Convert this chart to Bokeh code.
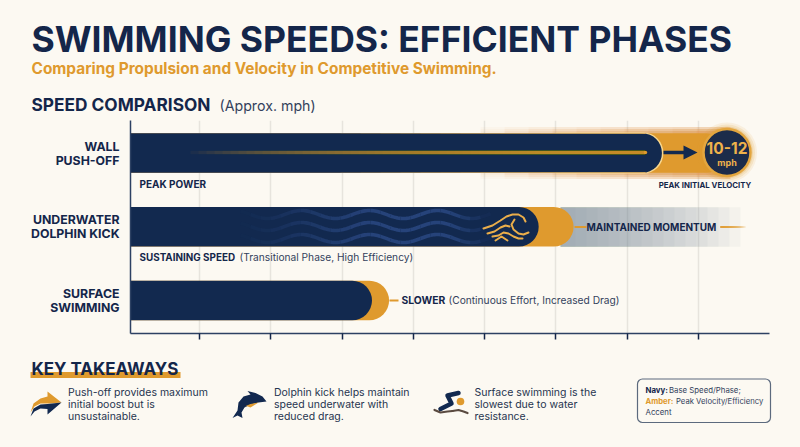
import numpy as np
from bokeh.core.properties import value
from bokeh.embed import file_html
from bokeh.layouts import column
from bokeh.models import FixedTicker, GlobalInlineStyleSheet, Range1d
from bokeh.plotting import figure
from bokeh.resources import INLINE

BG = "#FCF9F2"
NAVY = "#12294F"
INK = "#14264A"
AMBER = "#DF9A2E"
GRID = "#E7E4DD"
FONT = "Inter"
F = value(FONT)

phases = ["WALL\nPUSH-OFF", "UNDERWATER\nDOLPHIN KICK", "SURFACE\nSWIMMING"]
rows = [0, 1, 2]
navy_speed = [7.49, 5.76, 3.42]
amber_speed = [8.39, 6.25, 3.66]
grid_ticks = [1, 2, 3, 4, 5, 6, 7, 8, 9]
axis_ticks = [1, 2, 3, 4, 5, 6, 7, 8]

W = 800
HEAD_H = 120      # page y 0..120
CHART_H = 220     # page y 120..340
FOOT_H = 107      # page y 340..447

sheet = GlobalInlineStyleSheet(css=f"html,body{{background:{BG};overflow:hidden;}}")


def panel(h, y0, y1):
    f = figure(width=W, height=h, x_range=Range1d(0, 800), y_range=Range1d(y1, y0),
               output_backend="svg", toolbar_location=None, min_border=0, frame_align=False,
               background_fill_color=BG, border_fill_color=BG, outline_line_color=None)
    f.axis.visible = False
    f.grid.visible = False
    return f


def txt(f, x, y, s, size, color=INK, bold=False, align="left", **kw):
    # y is the wanted baseline; the renderer sets alphabetic text about 0.37em low
    f.text([x], [y - 0.37 * size], text=[s], text_font=F, text_font_size=f"{size}px",
           text_font_style="bold" if bold else "normal", text_color=color,
           text_align=align, text_baseline="alphabetic", **kw)


# ---------- header
head = panel(HEAD_H, 0, 120)
head.stylesheets = [sheet]
txt(head, 31, 52, "SWIMMING SPEEDS: EFFICIENT PHASES", 35.5, bold=True)
txt(head, 31, 74, "Comparing Propulsion and Velocity in Competitive Swimming.", 15.4, AMBER, True)
txt(head, 31, 110, "SPEED COMPARISON", 17.3, bold=True)
txt(head, 219, 110, "(Approx. mph)", 14.2, "#33415C")

# ---------- chart
chart = figure(width=W, height=CHART_H, x_range=Range1d(0.03, 9.0),
               y_range=Range1d(2.447, -0.441), frame_align=False,
               output_backend="svg", toolbar_location=None,
               min_border_left=130, min_border_right=31, min_border_top=0, min_border_bottom=7,
               background_fill_color=BG, border_fill_color=BG, outline_line_color=None)
chart.extra_x_ranges["px"] = Range1d(130, 769)
chart.extra_y_ranges["py"] = Range1d(333, 120)
P = dict(x_range_name="px", y_range_name="py")

chart.xgrid.ticker = FixedTicker(ticks=grid_ticks)
chart.xgrid.grid_line_color = GRID
chart.xgrid.grid_line_width = 1.5
chart.ygrid.visible = False
xa = chart.xaxis[0]
xa.ticker = FixedTicker(ticks=axis_ticks)
xa.major_label_text_color = None
xa.major_label_text_font_size = "1px"
xa.major_label_standoff = 0
xa.major_tick_in = 0
xa.major_tick_out = 6
xa.major_tick_line_color = INK
xa.major_tick_line_width = 1.5
xa.minor_tick_line_color = None
xa.axis_line_color = "#2D4163"
xa.axis_line_width = 1.5
ya = chart.yaxis[0]
ya.ticker = FixedTicker(ticks=rows)
ya.major_label_overrides = dict(zip(rows, phases))
ya.axis_line_color = "#2D4163"
ya.axis_line_width = 1.5
ya.major_tick_line_color = None
ya.minor_tick_line_color = None
ya.major_label_standoff = 5
ya.major_label_text_font = FONT
ya.major_label_text_font_style = "bold"
ya.major_label_text_font_size = "12.3px"
ya.major_label_text_color = INK
ya.major_label_text_line_height = 0.93

BAR_H = 0.535
LEFT = 0.03
CAP = (0, 20, 20, 0)

# glow around the wall push-off bar: nested layers build a ramp towards the badge
xs = np.arange(480, 720, 24)
for grow in [6, 4, 2]:
    n = len(xs)
    chart.quad(left=xs, right=[730] * n, top=[152.5 - 20 - grow] * n, bottom=[152.5 + 20 + grow] * n,
               fill_color=AMBER, line_color=None, fill_alpha=0.035, **P)

# grey fade behind maintained momentum: nested layers
xs = np.arange(575, 746, 11)
chart.quad(left=[560] * len(xs), right=xs, top=[206.7] * len(xs), bottom=[246.2] * len(xs),
           fill_color="#76829A", line_color=None, fill_alpha=0.06, **P)

# amber extensions
chart.hbar(y=rows, left=[LEFT] * 3, right=amber_speed, height=BAR_H, fill_color=AMBER,
           line_color=None, border_radius=CAP)
# pale rim on the wall bar's end
chart.hbar(y=[rows[0]], left=[6.0], right=[navy_speed[0] + 0.02], height=BAR_H + 0.02,
           fill_color="#F7D78F", line_color=None, border_radius=CAP)
# navy bars
chart.hbar(y=rows, left=[LEFT] * 3, right=navy_speed, height=BAR_H, fill_color=NAVY,
           line_color=None, border_radius=CAP)

# bright rim along the wall bar
xs = np.arange(340, 641, 20)
for yy in (133, 172):
    chart.segment(xs, [yy] * len(xs), [645] * len(xs), [yy] * len(xs), line_color="#EDB95E",
                  line_width=1.2, line_alpha=0.1, **P)

# wall bar amber streak
xs = np.arange(190, 641, 8)
chart.segment(xs, [152] * len(xs), [645] * len(xs), [152] * len(xs), line_color=AMBER, line_width=3.4,
              line_alpha=0.05, **P)
chart.scatter([645], [152], size=3.4, fill_color=AMBER, line_color=None, **P)

# arrow to the badge
chart.segment([663], [152], [686], [152], line_color=NAVY, line_width=3.5, **P)
chart.patch([683, 697, 683], [145, 152, 159], fill_color=NAVY, line_color=None, **P)

# badge
for r, a in [(60, .10), (56, .14), (52, .22)]:
    chart.scatter([726.5], [152], size=r, fill_color=AMBER, fill_alpha=a, line_color=None, **P)
chart.scatter([726.5], [152], size=47, fill_color="#1C2C4A", line_color="#E3A63F", line_width=2.5, **P)
txt(chart, 726.5, 153, "10-12", 15.5, "#EFB24B", True, "center", **P)
txt(chart, 726.5, 165, "mph", 9, "#EFB24B", True, "center", **P)

# waves in the dolphin bar
wx = np.arange(240, 491, 10)
xs_w, ys_w, al_w = [], [], []
for base in (214, 226, 238):
    for a, b in zip(wx[:-1], wx[1:]):
        t = np.linspace(a, b, 8)
        xs_w.append(t.tolist())
        ys_w.append((base + 4 * np.sin((t - 250) * 2 * np.pi / 68)).tolist())
        mid = (a + b) / 2
        al_w.append(min(1.0, (mid - 240) / 130) * min(1.0, (490 - mid) / 40))
chart.multi_line(xs_w, ys_w, line_color="#26437A", line_width=3.6, line_alpha=al_w, **P)

# wave icon
wave_icon_x = [[483, 492, 500, 506, 512, 518, 523, 525],
               [514, 511, 513, 518, 523, 528],
               [487, 494, 500, 505, 509],
               [492, 498, 503, 508, 513, 518, 522],
               [495, 501, 507]]
wave_icon_y = [[228, 225, 220, 216, 214, 214, 217, 221],
               [219, 224, 229, 233, 234, 232],
               [233, 231, 227, 225, 226],
               [236, 235, 232, 233, 236, 238, 238],
               [240, 236, 240]]
chart.multi_line(wave_icon_x, wave_icon_y, line_color="#EBAE4A", line_width=2,
                 line_cap="round", line_join="round", **P)

# connector ticks
chart.segment([574, 389], [226.5, 300], [586, 398], [226.5, 300], line_color=AMBER, line_width=2, **P)
xs = np.arange(723, 746, 2)
chart.segment([720] * len(xs), [226.5] * len(xs), xs, [226.5] * len(xs), line_color=AMBER, line_width=2,
              line_alpha=0.2, **P)

# annotations
txt(chart, 139, 187, "PEAK POWER", 10, bold=True, **P)
txt(chart, 704.5, 187.5, "PEAK INITIAL VELOCITY", 7.8, bold=True, align="center", **P)
txt(chart, 586, 230, "MAINTAINED MOMENTUM", 10, bold=True, **P)
txt(chart, 139, 260.5, "SUSTAINING SPEED", 9.9, bold=True, **P)
txt(chart, 239, 260.5, "(Transitional Phase, High Efficiency)", 10.2, "#33415C", **P)
txt(chart, 401, 303.5, "SLOWER", 10.3, bold=True, **P)
txt(chart, 448, 303.5, "(Continuous Effort, Increased Drag)", 10.2, "#33415C", **P)

# ---------- footer
foot = panel(FOOT_H, 340, 447)
foot.quad(left=[30], right=[180], top=[371.5], bottom=[377.5], fill_color=AMBER, line_color=None)
txt(foot, 31, 374.5, "KEY TAKEAWAYS", 17, bold=True)

take1 = ["Push-off provides maximum", "initial boost but is", "unsustainable."]
take2 = ["Dolphin kick helps maintain", "speed underwater with", "reduced drag."]
take3 = ["Surface swimming is the", "slowest due to water", "resistance."]
for x, lines in [(67.5, take1), (273.5, take2), (474, take3)]:
    for y, s in zip([396, 407.5, 419.5], lines):
        txt(foot, x, y, s, 10.5, "#26344F")

# arrow icon
foot.patch([30, 33, 40, 47, 47, 61, 50, 40, 34], [412, 403, 398, 396, 391, 402, 403, 403, 406],
           fill_color=AMBER, line_color=None)
foot.patch([30, 33, 40, 47, 61, 47, 47, 40, 34], [416, 408, 404, 403.5, 402, 414, 408.5, 408, 411],
           fill_color=NAVY, line_color=None)
# dolphin icon
foot.patch([266, 262, 255, 247, 250, 243, 238, 237, 232, 237, 242, 241, 244, 250, 258],
           [401, 396, 392.5, 390.5, 394, 396, 402, 410, 417.5, 415, 417.5, 412, 407, 404, 402],
           fill_color=NAVY, line_color=None)
foot.patch([244, 250, 258, 254, 250, 246], [406, 403.5, 402, 404.5, 407, 405.5],
           fill_color=AMBER, line_color=None)
# swimmer icon
foot.multi_line([[458, 447, 451, 440]], [[392.5, 395, 403, 408.5]], line_color=NAVY, line_width=4.5,
                line_join="round", line_cap="round")
foot.scatter([460], [401], size=7.6, fill_color=AMBER, line_color=None)
foot.multi_line([[434, 440, 447, 452], [452, 458, 463, 467]], [[409.5, 412, 411, 410.5], [410.5, 409.5, 411, 412.5]],
                line_color="#5A4A40", line_width=2.2, line_cap="round")

# colour key
foot.quad(left=[637], right=[770], top=[378.5], bottom=[422], fill_color=BG, line_color="#5C6A7E",
          line_width=1.2, border_radius=5)
txt(foot, 645, 392.5, "Navy:", 7.8, bold=True)
txt(foot, 668.5, 392.5, "Base Speed/Phase;", 7.8, "#33415C")
txt(foot, 645, 403.5, "Amber:", 7.7, AMBER, True)
txt(foot, 675.5, 403.5, "Peak Velocity/Efficiency", 7.7, "#33415C")
txt(foot, 645, 414.5, "Accent", 7.8, "#33415C")

page = column(head, chart, foot, spacing=0)
open("out.html", "w").write(file_html(page, INLINE))
